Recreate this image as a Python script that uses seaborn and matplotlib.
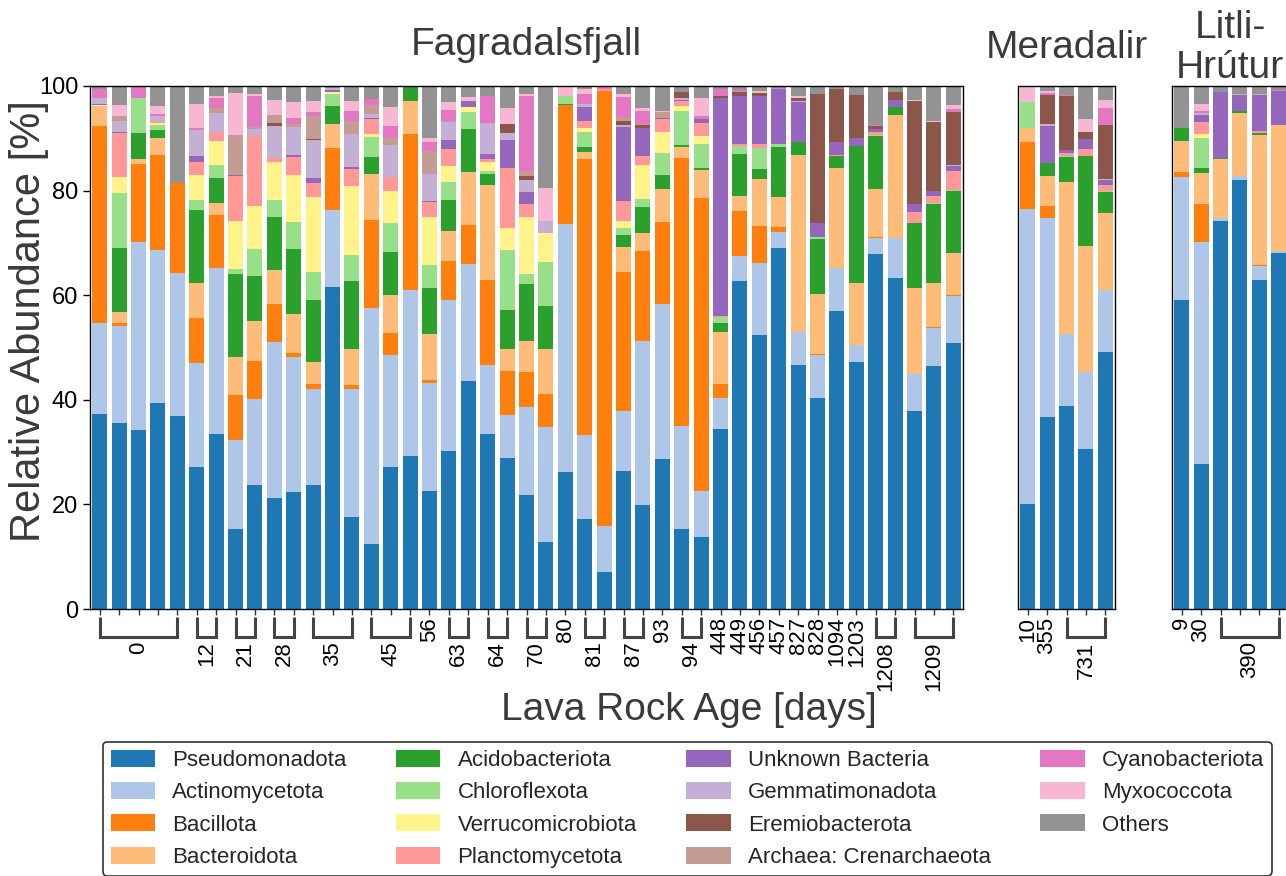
import numpy as np
import matplotlib
matplotlib.use("Agg")
import matplotlib.pyplot as plt
import matplotlib.transforms as mtransforms
from matplotlib.patches import Patch
import seaborn as sns

sns.set_style("ticks")
plt.rcParams["font.family"] = ["Liberation Sans", "DejaVu Sans"]

# ---------------- data ----------------
sites = ["Fagradalsfjall", "Meradalir", "Litli-\nHrútur"]
n_bars = [45, 5, 6]

categories = ["Pseudomonadota", "Actinomycetota", "Bacillota", "Bacteroidota",
              "Acidobacteriota", "Chloroflexota", "Verrucomicrobiota", "Planctomycetota",
              "Unknown Bacteria", "Gemmatimonadota", "Eremiobacterota",
              "Archaea: Crenarchaeota", "Cyanobacteriota", "Myxococcota", "Others"]
colors = ["#1f77b4", "#aec7e8", "#ff7f0e", "#ffbb78", "#2ca02c", "#98df8a", "#fff38a",
          "#ff9896", "#9467bd", "#c5b0d5", "#8c564b", "#c49c94", "#e377c2", "#f7b6d2",
          "#939393"]

# values per category: 45 Fagradalsfjall bars, 5 Meradalir bars, 6 Litli-Hrutur bars
pseudomonadota = [37.2, 35.5, 34.2, 39.3, 36.9, 27.2, 33.4, 15.3, 23.7, 21.2, 22.4, 23.7, 61.6, 17.6, 12.5,
                  27.2, 29.2, 22.6, 30.2, 43.5, 33.4, 28.9, 21.8, 12.9, 26.2, 17.2, 7.0, 26.4, 19.9, 28.7,
                  15.3, 13.8, 34.4, 62.8, 52.3, 69.0, 46.6, 40.3, 56.9, 47.3, 67.9, 63.3, 37.8, 46.4, 50.8,
                  20.1, 36.8, 38.9, 30.5, 49.1,
                  59.1, 27.8, 74.1, 82.1, 63.0, 68.1]
actinomycetota = [17.4, 18.6, 36.0, 29.4, 27.4, 19.8, 31.8, 17.0, 16.4, 29.9, 25.7, 18.3, 14.7, 24.4, 45.1,
                  21.3, 31.8, 20.7, 28.9, 22.5, 13.2, 8.1, 16.8, 21.9, 47.4, 16.0, 8.8, 11.4, 31.4, 29.7,
                  19.7, 8.8, 5.9, 4.7, 13.9, 3.0, 6.3, 8.2, 8.3, 3.1, 3.1, 7.7, 7.1, 7.3, 9.1,
                  56.3, 37.9, 13.7, 14.9, 11.8,
                  23.5, 42.3, 0.6, 0.6, 2.6, 0.4]
bacillota = [37.7, 0.5, 14.8, 18.1, 17.2, 8.7, 10.1, 8.7, 7.4, 7.3, 0.9, 1.1, 11.8, 0.9, 16.7,
             4.2, 29.8, 0.5, 7.5, 7.4, 16.4, 8.5, 6.7, 6.3, 22.7, 52.8, 83.2, 26.7, 17.1, 15.6,
             51.2, 55.9, 2.7, 8.6, 7.0, 1.0, 0.0, 0.2, 0.0, 0.0, 0.2, 0.0, 0.0, 0.2, 0.2,
             12.8, 2.3, 0.0, 0.0, 0.1,
             0.9, 7.3, 0.0, 0.0, 0.2, 0.0]
bacteroidota = [3.8, 2.1, 1.0, 3.2, 0.0, 6.7, 2.3, 7.1, 7.5, 6.5, 7.5, 4.2, 4.6, 6.9, 8.8,
                7.3, 6.4, 8.7, 5.7, 10.1, 18.1, 4.2, 5.9, 8.6, 0.0, 1.3, 0.0, 4.7, 3.4, 6.3,
                2.1, 5.4, 10.0, 2.9, 9.0, 5.8, 33.9, 11.6, 19.1, 12.0, 9.1, 23.4, 16.5, 8.5, 8.0,
                2.7, 5.7, 29.0, 24.1, 14.8,
                5.9, 5.9, 11.3, 12.2, 24.9, 24.1]
acidobacteriota = [0.0, 12.3, 5.0, 1.6, 0.0, 13.9, 4.8, 16.0, 8.7, 10.0, 12.4, 11.8, 3.4, 13.0, 3.3,
                   8.3, 2.8, 8.8, 5.9, 8.2, 2.1, 7.4, 10.9, 8.2, 0.2, 1.1, 0.0, 2.3, 5.1, 2.7,
                   0.4, 0.4, 1.6, 8.0, 1.9, 9.5, 2.5, 10.5, 2.3, 26.1, 10.1, 1.5, 12.4, 15.0, 11.9,
                   0.0, 2.6, 4.8, 17.2, 3.9,
                   2.6, 1.1, 0.3, 0.3, 0.4, 0.0]
chloroflexota = [0.0, 10.5, 6.8, 0.9, 0.0, 1.9, 2.5, 0.9, 5.2, 3.3, 5.1, 5.4, 2.3, 4.9, 3.8,
                 5.5, 0.0, 4.4, 3.5, 3.3, 0.5, 11.6, 1.9, 8.4, 1.6, 2.9, 0.0, 1.4, 1.4, 4.1,
                 6.6, 4.6, 1.3, 1.5, 4.0, 0.6, 0.0, 0.4, 0.0, 0.0, 0.3, 0.0, 0.0, 0.3, 0.1,
                 5.1, 0.0, 0.2, 0.0, 0.3,
                 0.0, 5.6, 0.0, 0.0, 0.0, 0.0]
verrucomicrobiota = [0.3, 3.1, 0.0, 0.5, 0.0, 4.8, 4.5, 9.2, 8.1, 7.2, 9.0, 14.3, 0.5, 13.2, 0.6,
                     6.2, 0.0, 9.3, 3.0, 0.9, 1.8, 4.2, 11.0, 5.5, 0.0, 0.6, 0.0, 1.3, 6.6, 4.2,
                     0.8, 1.5, 0.0, 0.0, 0.0, 0.0, 0.0, 0.0, 0.0, 0.0, 0.0, 0.0, 0.0, 0.0, 0.0,
                     0.0, 0.0, 0.0, 0.0, 0.0,
                     0.0, 0.9, 0.0, 0.0, 0.0, 0.0]
planctomycetota = [0.0, 8.5, 0.0, 0.4, 0.0, 2.4, 1.9, 8.6, 13.4, 0.8, 3.4, 2.6, 0.0, 3.2, 2.8,
                   2.6, 0.0, 2.9, 3.2, 0.0, 0.6, 11.4, 2.5, 0.0, 0.0, 1.5, 0.4, 3.8, 1.8, 2.3,
                   1.0, 2.5, 0.2, 0.5, 0.8, 0.0, 0.0, 0.0, 0.3, 0.0, 0.6, 0.0, 2.1, 1.3, 3.6,
                   0.0, 0.0, 0.6, 1.2, 1.0,
                   0.0, 2.2, 0.0, 0.0, 0.3, 0.0]
unknown_bacteria = [0.2, 0.2, 0.0, 0.0, 0.0, 1.2, 0.0, 0.2, 0.0, 0.0, 0.4, 1.0, 0.4, 0.4, 0.3,
                    0.0, 0.0, 0.2, 1.8, 1.2, 0.9, 5.4, 2.3, 0.0, 0.0, 2.6, 0.0, 14.1, 5.2, 0.3,
                    0.3, 0.7, 41.6, 9.0, 9.1, 10.5, 7.7, 2.7, 2.3, 1.5, 0.4, 1.5, 1.5, 1.0, 1.0,
                    0.0, 7.1, 0.5, 1.9, 1.1,
                    0.0, 1.4, 12.6, 3.0, 6.8, 6.5]
gemmatimonadota = [1.1, 2.0, 0.0, 0.8, 0.0, 4.9, 3.6, 0.0, 1.4, 6.1, 5.3, 7.2, 0.4, 6.3, 0.8,
                   6.1, 0.0, 5.0, 3.4, 0.0, 6.0, 1.3, 2.3, 2.3, 0.0, 0.6, 0.0, 0.4, 0.0, 0.0,
                   0.4, 0.0, 0.0, 0.0, 0.0, 0.0, 0.2, 0.0, 0.0, 0.0, 0.0, 0.0, 0.0, 0.0, 0.2,
                   0.0, 0.3, 0.0, 0.0, 0.2,
                   0.0, 0.3, 0.0, 0.2, 0.2, 0.0]
eremiobacterota = [0.0, 0.0, 0.0, 0.0, 0.0, 0.0, 0.0, 0.0, 0.0, 0.6, 0.0, 0.2, 0.0, 0.0, 0.0,
                   0.0, 0.0, 0.0, 0.0, 0.0, 0.0, 1.7, 0.7, 0.0, 0.0, 0.0, 0.0, 0.9, 0.7, 0.0,
                   1.0, 0.0, 0.3, 0.8, 0.7, 0.0, 0.6, 24.5, 10.2, 8.2, 0.6, 1.4, 19.8, 13.2, 10.2,
                   0.0, 5.6, 10.3, 1.4, 10.3,
                   0.0, 0.0, 0.0, 0.0, 0.0, 0.0]
archaea_crenarchaeota = [0.0, 0.9, 0.0, 0.0, 0.0, 0.0, 0.9, 7.6, 0.3, 1.5, 0.6, 4.4, 0.0, 2.5, 1.7,
                         1.3, 0.0, 4.4, 0.2, 0.0, 0.0, 0.0, 1.0, 0.0, 0.0, 0.0, 0.0, 0.6, 0.2, 1.1,
                         0.0, 0.0, 0.0, 0.0, 0.0, 0.0, 0.0, 0.0, 0.0, 0.0, 0.0, 0.0, 0.0, 0.0, 0.0,
                         0.0, 0.0, 0.0, 0.0, 0.0,
                         0.0, 0.0, 0.0, 0.0, 0.0, 0.0]
cyanobacteriota = [1.7, 0.0, 2.2, 0.5, 0.0, 0.4, 2.0, 0.0, 5.9, 0.0, 1.1, 0.8, 0.0, 2.0, 1.2,
                   2.3, 0.0, 1.8, 2.1, 0.0, 5.0, 0.0, 14.3, 0.0, 0.0, 1.9, 0.5, 3.9, 2.5, 0.0,
                   0.0, 0.6, 1.4, 0.5, 0.0, 0.3, 0.0, 0.0, 0.0, 0.0, 0.2, 0.0, 0.0, 0.0, 0.5,
                   0.0, 0.4, 0.2, 0.0, 3.1,
                   0.0, 0.5, 0.0, 0.0, 0.0, 0.2]
myxococcota = [0.0, 2.1, 0.0, 1.5, 0.0, 4.6, 0.3, 8.0, 0.4, 3.0, 3.1, 2.2, 0.0, 1.8, 0.0,
               3.6, 0.0, 0.8, 1.5, 0.8, 0.0, 3.1, 0.4, 6.4, 1.9, 0.9, 0.0, 0.5, 0.5, 0.2,
               0.0, 3.6, 0.0, 0.0, 0.4, 0.0, 0.2, 0.0, 0.0, 0.0, 0.0, 0.0, 0.2, 0.2, 0.7,
               3.0, 0.4, 0.0, 2.5, 1.7,
               0.0, 1.3, 0.0, 0.0, 0.0, 0.0]
others = [0.6, 3.7, 0.0, 3.7, 18.5, 3.5, 1.8, 1.4, 1.6, 2.6, 3.1, 2.8, 0.3, 2.9, 2.3,
          4.1, 0.0, 10.0, 3.1, 2.1, 2.0, 4.3, 1.6, 19.5, 0.0, 0.6, 0.1, 1.6, 4.1, 4.7,
          1.2, 2.2, 0.6, 0.8, 0.9, 0.3, 2.1, 1.6, 0.6, 1.8, 7.5, 1.2, 2.6, 6.6, 3.7,
          0.0, 0.9, 1.8, 6.3, 2.6,
          8.0, 3.4, 1.1, 1.6, 1.6, 0.7]

# x-axis group labels: (label, first bar, last bar) per site
groups_fagra = [("0", 0, 4), ("12", 5, 6), ("21", 7, 8), ("28", 9, 10), ("35", 11, 13),
                ("45", 14, 16), ("56", 17, 17), ("63", 18, 19), ("64", 20, 21), ("70", 22, 23),
                ("80", 24, 24), ("81", 25, 26), ("87", 27, 28), ("93", 29, 29), ("94", 30, 31),
                ("448", 32, 32), ("449", 33, 33), ("456", 34, 34), ("457", 35, 35),
                ("827", 36, 36), ("828", 37, 37), ("1094", 38, 38), ("1203", 39, 39),
                ("1208", 40, 41), ("1209", 42, 44)]
groups_mera = [("10", 0, 0), ("355", 1, 1), ("731", 2, 4)]
groups_litli = [("9", 0, 0), ("30", 1, 1), ("390", 2, 5)]
all_groups = [groups_fagra, groups_mera, groups_litli]

series = [pseudomonadota, actinomycetota, bacillota, bacteroidota, acidobacteriota,
          chloroflexota, verrucomicrobiota, planctomycetota, unknown_bacteria,
          gemmatimonadota, eremiobacterota, archaea_crenarchaeota, cyanobacteriota,
          myxococcota, others]

# ---------------- figure ----------------
W, H = 1286, 876
fig = plt.figure(figsize=(W / 100, H / 100), dpi=100)
ax_top, ax_bot = 86, 609
ax_h = ax_bot - ax_top
lefts = [90, 1018, 1172]
widths = [873, 97, 116.4]
dark = "#3a3a3a"

values = np.array(series)  # (15, 56)
cum = np.cumsum(values, axis=0)
starts = np.cumsum([0] + n_bars)

axes = []
for si in range(3):
    ax = fig.add_axes([lefts[si] / W, (H - ax_bot) / H, widths[si] / W, ax_h / H])
    axes.append(ax)
    sl = slice(starts[si], starts[si + 1])
    idx = np.arange(n_bars[si])
    # stacked bars: draw cumulative totals from top layer down
    for k in range(len(categories) - 1, -1, -1):
        sns.barplot(x=idx, y=cum[k, sl], color=colors[k], width=0.78, saturation=1,
                    edgecolor="none", linewidth=0, errorbar=None, ax=ax)
    ax.set_xlim(-0.5, n_bars[si] - 0.5)
    ax.set_ylim(0, 100)
    ax.set_xticks(idx)
    ax.set_xticklabels([])
    ax.set_xlabel("")
    ax.set_ylabel("")
    ax.tick_params(axis="x", length=4, width=1, color="#333333")
    for sp in ax.spines.values():
        sp.set_visible(True)
        sp.set_color("black")
        sp.set_linewidth(1.0)
    if si == 0:
        ax.set_yticks([0, 20, 40, 60, 80, 100])
        ax.tick_params(axis="y", labelsize=17, length=5, width=1, colors="black")
    else:
        ax.set_yticks([])

    # brackets and group labels
    tr = mtransforms.blended_transform_factory(ax.transData, ax.transAxes)
    y1 = -8.0 / ax_h
    y2 = -27.5 / ax_h
    for lab, s, e in all_groups[si]:
        if s == e:
            ax.text(s, -8.0 / ax_h, lab, transform=tr, rotation=90, ha="center", va="top",
                    fontsize=16, color="black", clip_on=False)
        else:
            ax.plot([s, s, e, e], [y1, y2, y2, y1], transform=tr, color="#444444", lw=2.2,
                    solid_joinstyle="miter", solid_capstyle="butt", clip_on=False)
            ax.text((s + e) / 2, -32.5 / ax_h, lab, transform=tr, rotation=90, ha="center",
                    va="top", fontsize=16, color="black", clip_on=False)

# site titles
axes[0].text(0.5, 1 + (ax_top - 55) / ax_h, sites[0], transform=axes[0].transAxes,
             ha="center", va="baseline", fontsize=28, color=dark)
axes[1].text(0.5, 1 + (ax_top - 58) / ax_h, sites[1], transform=axes[1].transAxes,
             ha="center", va="baseline", fontsize=28, color=dark)
t_lines = sites[2].split("\n")
axes[2].text(0.5, 1 + (ax_top - 38) / ax_h, t_lines[0], transform=axes[2].transAxes,
             ha="center", va="baseline", fontsize=28, color=dark)
axes[2].text(0.5, 1 + (ax_top - 78) / ax_h, t_lines[1], transform=axes[2].transAxes,
             ha="center", va="baseline", fontsize=28, color=dark)

# axis labels
fig.text(689 / W, (H - 720) / H, "Lava Rock Age [days]", ha="center", va="baseline",
         fontsize=28, color=dark)
fig.text(29 / W, (H - 321) / H, "Relative Abundance [%]", ha="center", va="center",
         rotation=90, fontsize=30, color=dark)

# legend
handles = [Patch(facecolor=c, edgecolor="none") for c in colors]
leg = fig.legend(handles, categories, ncol=4, loc="upper left",
                 bbox_to_anchor=(103 / W, 1 - 742 / H), bbox_transform=fig.transFigure,
                 borderaxespad=0, fontsize=16, frameon=True, fancybox=True,
                 handlelength=2.0, handleheight=0.8, handletextpad=0.77,
                 columnspacing=2.22, labelspacing=0.5, borderpad=0.35)
leg.get_frame().set_edgecolor("#333333")
leg.get_frame().set_linewidth(1.2)
leg.get_frame().set_alpha(1)

fig.savefig("out.png", dpi=100)
